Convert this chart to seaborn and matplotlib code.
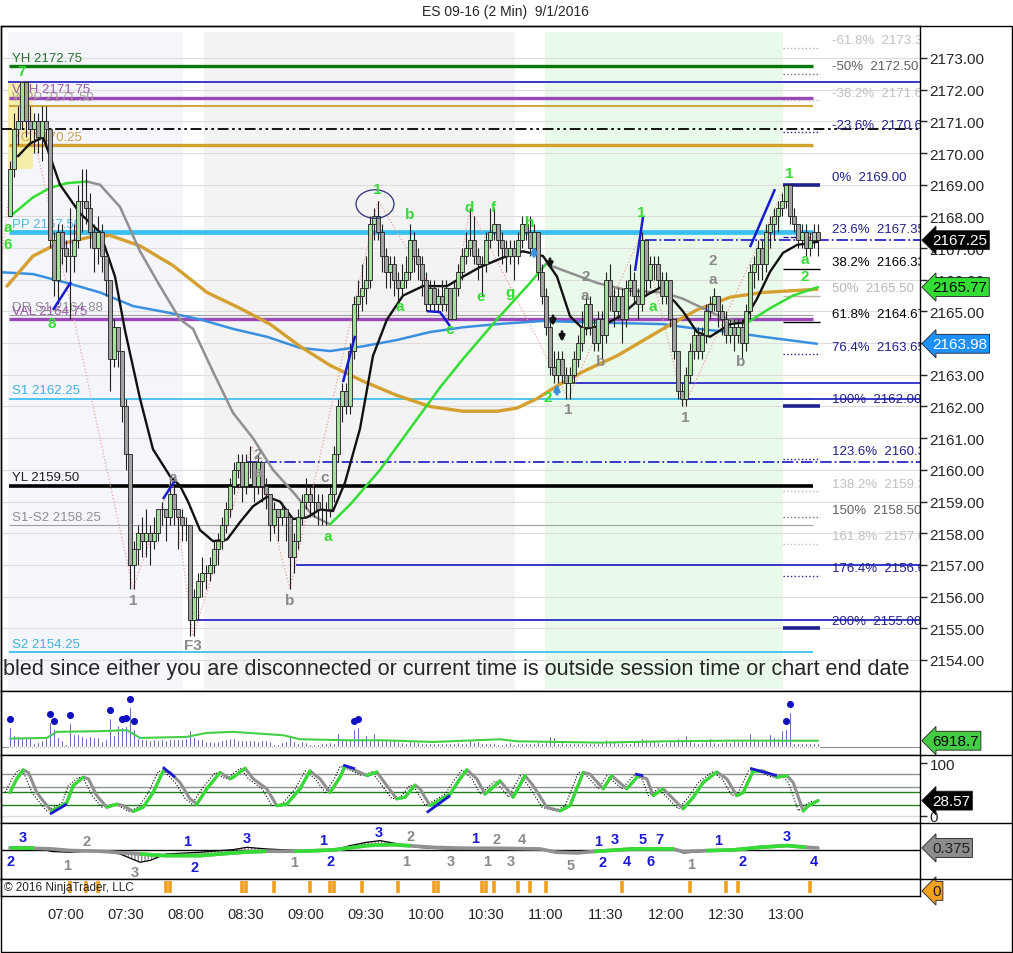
import matplotlib
matplotlib.use("Agg")
import matplotlib.pyplot as plt
import matplotlib.transforms as mtransforms
from matplotlib.collections import LineCollection
from matplotlib.lines import Line2D
from matplotlib.patches import Ellipse, Rectangle
import numpy as np
import pandas as pd
import seaborn as sns

sns.set_style("white")
plt.rcParams["font.family"] = ["Liberation Sans", "DejaVu Sans"]

# ---------------- data ----------------
first_bar_time = "06:32"   # 2 minute bars
bar_minutes = 2
first_open = 2168.0

closes = [
    2169.5, 2170.75, 2171.0, 2172.25, 2171.0, 2170.75, 2171.0, 2170.5, 2171.0, 2170.75,
    2167.25, 2166.0, 2167.5, 2167.0, 2166.75, 2166.75, 2167.25, 2168.5, 2168.5, 2168.25,
    2167.5, 2167.0, 2167.5, 2166.75, 2166.0, 2163.5, 2164.5, 2163.75, 2162.0, 2160.5,
    2157.0, 2157.5, 2158.0, 2157.75, 2158.0, 2157.75, 2158.0, 2158.75, 2158.75, 2158.5,
    2159.25, 2158.75, 2158.5, 2158.25, 2158.25, 2155.25, 2156.0, 2156.5, 2156.75, 2156.75,
    2157.0, 2157.5, 2157.75, 2158.25, 2158.75, 2159.5, 2160.0, 2160.25, 2159.5, 2160.25,
    2160.25, 2159.5, 2160.25, 2159.5, 2159.25, 2158.25, 2158.75, 2158.5, 2158.75, 2158.5,
    2157.25, 2157.75, 2158.5, 2159.0, 2159.25, 2159.0, 2159.0, 2158.75, 2158.75, 2158.75,
    2159.25, 2160.5, 2162.0, 2162.5, 2162.0, 2163.75, 2165.25, 2165.5, 2165.75, 2166.0,
    2167.75, 2168.0, 2167.5, 2166.75, 2166.25, 2166.5, 2166.0, 2165.75, 2166.0, 2166.25,
    2167.25, 2166.75, 2166.5, 2166.0, 2165.25, 2165.75, 2165.25, 2165.5, 2165.25, 2165.75,
    2164.75, 2165.75, 2166.25, 2166.75, 2167.0, 2167.25, 2166.75, 2166.5, 2166.5, 2167.25,
    2167.5, 2167.75, 2167.25, 2167.0, 2166.75, 2167.0, 2166.75, 2167.25, 2167.75, 2167.5,
    2167.0, 2167.5, 2166.25, 2165.5, 2164.5, 2163.25, 2163.0, 2163.5, 2163.0, 2162.75,
    2163.0, 2163.5, 2164.0, 2164.5, 2165.25, 2164.5, 2164.0, 2164.75, 2164.25, 2166.0,
    2165.5, 2165.0, 2165.5, 2164.75, 2165.75, 2166.0, 2165.5, 2165.25, 2167.25, 2166.0,
    2166.5, 2166.5, 2166.0, 2165.5, 2166.0, 2164.75, 2163.75, 2162.5, 2162.25, 2163.0,
    2163.75, 2164.25, 2163.75, 2164.25, 2165.0, 2165.25, 2165.5, 2165.0, 2164.75, 2164.25,
    2164.5, 2164.25, 2164.5, 2164.0, 2165.0, 2166.25, 2166.5, 2167.0, 2166.5, 2167.5,
    2167.75, 2168.0, 2168.25, 2168.5, 2169.0, 2168.0, 2167.75, 2167.25, 2167.5, 2167.0,
    2167.25, 2167.5, 2167.25,
]
highs = [
    2169.75, 2171.25, 2171.5, 2172.25, 2172.25, 2171.5, 2171.25, 2171.25, 2171.5, 2171.5,
    2170.75, 2167.5, 2167.75, 2167.75, 2167.25, 2168.25, 2167.75, 2169.0, 2169.5, 2169.5,
    2168.75, 2167.75, 2168.0, 2167.75, 2166.75, 2166.0, 2164.75, 2164.5, 2163.75, 2162.25,
    2160.5, 2157.75, 2158.25, 2158.5, 2158.75, 2158.25, 2158.5, 2158.75, 2159.0, 2158.75,
    2159.75, 2159.5, 2158.75, 2158.75, 2158.5, 2158.25, 2156.25, 2156.75, 2157.25, 2157.0,
    2157.25, 2157.75, 2158.0, 2158.5, 2159.0, 2159.75, 2160.25, 2160.5, 2160.5, 2160.5,
    2160.75, 2160.25, 2160.5, 2160.25, 2159.75, 2159.25, 2159.0, 2158.75, 2159.0, 2158.75,
    2158.5, 2158.0, 2158.75, 2159.25, 2159.75, 2159.5, 2159.5, 2159.25, 2159.25, 2159.0,
    2159.5, 2160.75, 2162.25, 2162.75, 2162.75, 2164.0, 2165.5, 2166.0, 2166.5, 2166.75,
    2168.0, 2168.25, 2168.5, 2167.75, 2167.0, 2166.75, 2166.75, 2166.25, 2166.5, 2166.75,
    2167.75, 2167.5, 2167.0, 2166.75, 2166.25, 2166.0, 2166.0, 2165.75, 2166.0, 2166.0,
    2165.75, 2166.0, 2166.5, 2167.0, 2167.5, 2168.25, 2168.0, 2167.0, 2166.75, 2167.5,
    2168.25, 2168.25, 2167.75, 2167.5, 2167.25, 2167.25, 2167.25, 2167.5, 2168.0, 2168.0,
    2168.0, 2167.75, 2167.5, 2166.5, 2165.75, 2164.75, 2163.75, 2163.75, 2163.75, 2163.25,
    2163.25, 2163.75, 2164.25, 2165.0, 2165.5, 2165.5, 2164.75, 2165.0, 2165.0, 2166.25,
    2166.5, 2165.75, 2165.75, 2165.75, 2166.0, 2166.5, 2166.25, 2165.75, 2167.5, 2167.25,
    2166.75, 2166.75, 2166.75, 2166.25, 2166.25, 2166.0, 2164.75, 2163.75, 2162.75, 2163.25,
    2164.0, 2164.5, 2164.5, 2164.5, 2165.25, 2165.5, 2165.75, 2165.5, 2165.25, 2165.0,
    2164.75, 2164.75, 2164.75, 2164.75, 2165.25, 2166.5, 2166.75, 2167.25, 2167.25, 2167.75,
    2168.0, 2168.25, 2168.5, 2168.75, 2169.0, 2169.0, 2168.25, 2167.75, 2167.75, 2167.75,
    2167.5, 2167.75, 2167.75,
]
lows = [
    2168.0, 2169.25, 2170.25, 2170.75, 2170.5, 2170.25, 2170.0, 2170.0, 2169.75, 2170.25,
    2167.0, 2165.5, 2165.25, 2166.5, 2166.25, 2164.75, 2166.25, 2167.0, 2167.5, 2167.75,
    2167.0, 2166.25, 2166.5, 2166.25, 2165.5, 2162.5, 2163.25, 2163.25, 2161.5, 2160.0,
    2156.25, 2156.25, 2157.0, 2157.25, 2157.25, 2157.0, 2157.5, 2157.75, 2158.25, 2157.75,
    2158.25, 2158.25, 2157.5, 2157.75, 2157.75, 2154.75, 2154.75, 2155.25, 2156.0, 2156.25,
    2156.5, 2156.75, 2157.0, 2157.5, 2158.0, 2158.5, 2159.25, 2159.75, 2159.0, 2159.25,
    2159.75, 2159.0, 2159.25, 2159.0, 2158.75, 2157.75, 2158.0, 2157.75, 2158.25, 2157.75,
    2156.25, 2156.75, 2157.5, 2158.25, 2158.75, 2158.5, 2158.5, 2158.25, 2158.25, 2158.25,
    2158.5, 2159.0, 2160.25, 2161.5, 2161.75, 2161.75, 2163.5, 2164.75, 2165.0, 2165.25,
    2165.75, 2167.25, 2167.25, 2166.25, 2165.75, 2165.75, 2165.5, 2165.25, 2165.5, 2165.75,
    2166.0, 2166.25, 2166.0, 2165.5, 2165.0, 2165.0, 2165.0, 2165.0, 2165.0, 2165.0,
    2164.75, 2164.75, 2165.5, 2166.0, 2166.5, 2166.75, 2166.5, 2166.0, 2165.5, 2166.25,
    2167.0, 2167.25, 2166.75, 2166.5, 2166.25, 2166.5, 2166.0, 2166.5, 2167.0, 2167.25,
    2166.75, 2166.75, 2166.0, 2165.25, 2164.25, 2163.0, 2162.75, 2162.75, 2162.75, 2162.25,
    2162.25, 2162.75, 2163.25, 2163.75, 2164.25, 2164.25, 2163.75, 2163.75, 2163.5, 2164.0,
    2165.0, 2164.5, 2164.75, 2164.0, 2164.5, 2165.5, 2165.25, 2164.75, 2165.0, 2165.5,
    2165.75, 2166.0, 2165.75, 2165.25, 2165.25, 2164.5, 2163.5, 2162.25, 2162.0, 2162.0,
    2162.75, 2163.5, 2163.5, 2163.5, 2164.0, 2164.75, 2165.0, 2164.5, 2164.25, 2164.0,
    2164.0, 2163.75, 2164.0, 2163.5, 2163.75, 2164.75, 2165.75, 2166.0, 2166.0, 2166.25,
    2167.0, 2167.25, 2167.5, 2168.0, 2168.25, 2167.75, 2167.5, 2167.0, 2167.0, 2166.75,
    2166.75, 2167.0, 2166.75,
]
volumes = [
    22200, 13700, 12200, 11100, 10000, 11100, 4800, 5550, 7400, 10000,
    27750, 20350, 11100, 7400, 3700, 26650, 14800, 14800, 12200, 10000,
    12200, 11100, 11100, 6300, 9250, 31450, 13700, 24050, 22200, 23300,
    44400, 20350, 10000, 9250, 8500, 7400, 8500, 7800, 8500, 7400,
    9250, 9250, 8500, 9250, 10000, 18500, 11100, 9250, 8500, 6300,
    6300, 5550, 6300, 7400, 8500, 10000, 10000, 7400, 7800, 8100,
    7400, 7400, 7000, 7800, 7400, 7000, 3700, 3700, 5550, 6300,
    12200, 6300, 4800, 6300, 5550, 3700, 3700, 3700, 4800, 4800,
    5550, 4800, 15900, 10000, 8500, 8500, 19600, 22200, 10000, 12950,
    7400, 15900, 10000, 7400, 8500, 7400, 7400, 6300, 5550, 4800,
    7400, 7000, 5550, 4800, 4450, 4050, 4050, 4050, 4050, 4800,
    4450, 4800, 5550, 4800, 4800, 7400, 5550, 6300, 4800, 4450,
    4800, 4050, 3700, 3700, 4450, 5550, 3700, 4800, 4450, 4050,
    4800, 4450, 5550, 4800, 5550, 12200, 11100, 4800, 5550, 4450,
    4800, 4050, 4800, 4450, 4050, 4800, 4450, 4800, 5550, 8500,
    5550, 6300, 4800, 5550, 4450, 4800, 5550, 6300, 10000, 8500,
    6300, 7400, 5550, 4800, 5550, 6300, 7400, 10000, 9250, 13700,
    7400, 5550, 4800, 5550, 6300, 10000, 5550, 4800, 5550, 6300,
    5550, 7400, 6300, 9250, 6300, 15900, 10000, 9250, 6300, 7400,
    14800, 11100, 10000, 18500, 19600, 38850, 4800, 4450, 4800, 4050,
    4450, 4800, 4050,
]
volume_spike_bars = [0, 10, 11, 15, 25, 28, 29, 30, 31, 86, 87, 194, 195]

# moving averages (sampled along the drawn lines)
ema_fast_x = [2, 5, 8.25, 10, 12.5, 17.5, 22.5, 26.25, 28.75, 32.5, 35.75, 40, 42.5, 44.5,
              47.5, 50.75, 54.25, 57.5, 60.75, 64.25, 67.5, 70.75, 74.25, 77.5, 80.75, 83.75,
              87.5, 90.75, 94.25, 98.25, 103.25, 109.25, 113.25, 117.5, 123.25, 128.25, 133.25,
              136.75, 140, 143.25, 148.25, 152.5, 157.5, 162.5, 166.25, 168.25, 171.75, 175,
              180, 183.25, 186.75, 190, 193.25, 196.75, 202]
ema_fast_y = [2169.9, 2170.3, 2170.5, 2169.9, 2169.0, 2168.1, 2167.5, 2166.1, 2164.4, 2162.25,
              2160.65, 2159.8, 2159.5, 2159.0, 2158.1, 2157.75, 2157.8, 2158.35, 2158.85, 2159.15,
              2159.0, 2158.45, 2158.5, 2158.75, 2158.7, 2159.6, 2161.3, 2163.6, 2164.75, 2165.5,
              2165.8, 2165.8, 2166.1, 2166.4, 2166.7, 2166.9, 2166.75, 2166.1, 2164.85, 2164.45,
              2164.55, 2164.85, 2165.4, 2165.75, 2165.3, 2165.0, 2164.35, 2164.2, 2164.6, 2164.65,
              2165.4, 2166.25, 2166.85, 2167.1, 2167.2]
trend_ma_x = [0, 5.75, 10, 14.25, 19.25, 22.5, 27.5, 32.5, 37.5, 42.5, 45.75, 50.75, 55.75,
              60.75, 65.75, 70.75, 75.75, 80, 85, 92.5, 100, 107.5, 113.25, 121.75, 130, 134,
              138.25, 146.75, 155, 163.25, 168.25, 173.25, 178.25, 183.75, 190, 195.75, 202]
trend_ma_y = [2168.0, 2168.6, 2168.9, 2169.05, 2169.1, 2169.0, 2168.3, 2166.9, 2165.8, 2164.75,
              2164.45, 2163.1, 2161.8, 2161.0, 2160.0, 2159.3, 2158.55, 2158.28, 2158.9, 2160.0,
              2161.3, 2162.6, 2163.5, 2164.75, 2165.9, 2166.5, 2166.3, 2165.9, 2165.65, 2165.6,
              2165.4, 2165.1, 2164.8, 2164.6, 2165.1, 2165.5, 2165.77]
gold_ma_x = [-0.75, 5.75, 10.75, 20, 25, 32.5, 40.75, 49.25, 57.5, 65, 72.5, 80, 88.25, 96.75,
             105, 113.25, 121.75, 126.75, 131.75, 136.75, 143.25, 151.75, 163.25, 171.75, 180,
             188.25, 201.75]
gold_ma_y = [2165.8, 2166.75, 2167.07, 2167.35, 2167.4, 2167.07, 2166.45, 2165.6, 2165.1, 2164.6,
             2163.9, 2163.3, 2162.8, 2162.35, 2162.0, 2161.85, 2161.85, 2161.95, 2162.25, 2162.65,
             2163.1, 2163.6, 2164.45, 2165.05, 2165.45, 2165.6, 2165.7]
blue_ma_x = [-2.5, 5.75, 14.25, 22.5, 30.75, 39.25, 47.5, 55.75, 64.25, 72.5, 80, 88.25, 96.75,
             105, 113.25, 121.75, 133.25, 146.75, 163.25, 171.75, 180, 188.25, 201.75]
blue_ma_y = [2166.24, 2166.18, 2165.9, 2165.6, 2165.17, 2164.97, 2164.75, 2164.45, 2164.2,
             2163.85, 2163.75, 2163.9, 2164.1, 2164.35, 2164.5, 2164.6, 2164.7, 2164.65, 2164.6,
             2164.45, 2164.35, 2164.2, 2163.98]
vol_ma_x = [0, 9.2, 11.7, 22.5, 29.2, 32.5, 44.2, 49.2, 55.8, 68.3, 72.5, 85, 93.3, 105.8,
            122.5, 126.7, 147.5, 164.2, 180.8, 202]
vol_ma_y = [9250, 10000, 16650, 17400, 18500, 10000, 11100, 15500, 16650, 12950, 8500, 7400,
            7400, 5550, 8500, 6300, 4800, 6300, 7000, 6918.7]

# stochastics
stoch_x = [0, 1.7, 3.3, 4.6, 6.7, 8.3, 10.4, 12.9, 14.2, 15.8, 18.3, 19.6, 21.7, 24.2, 26.7,
           28.3, 30.8, 33.3, 35.8, 38.3, 40.0, 42.5, 45.0, 46.7, 49.2, 52.5, 55.0, 55.8, 58.8,
           60.8, 64.2, 66.7, 69.2, 72.5, 75.0, 77.5, 80.0, 82.5, 83.75, 86.7, 89.2, 91.7, 94.2,
           96.7, 98.75, 101.25, 102.5, 105.0, 107.5, 110.0, 112.5, 114.2, 116.7, 118.75, 120.8,
           122.5, 124.2, 125.8, 128.75, 130.8, 134.2, 137.5, 140.0, 143.3, 145.0, 148.3, 150.4,
           154.2, 157.1, 159.2, 160.8, 163.3, 165.8, 168.3, 170.8, 173.3, 176.7, 179.2, 181.7,
           183.3, 185.8, 188.3, 191.7, 194.2, 195.8, 198.3, 199.6, 202.0]
stoch_v = [44, 70, 87, 82, 44, 28, 9, 19, 25, 57, 73, 70, 38, 16, 22, 19, 8, 16, 44, 85,
           82, 63, 32, 22, 51, 82, 70, 73, 90, 70, 51, 19, 22, 51, 85, 70, 44, 73, 94, 85,
           76, 83, 57, 32, 35, 58, 51, 19, 30, 41, 70, 87, 70, 41, 54, 66, 51, 35, 76, 57,
           16, 9, 19, 82, 79, 51, 76, 51, 76, 70, 38, 51, 32, 13, 35, 63, 83, 70, 38, 44,
           85, 85, 73, 76, 63, 9, 19, 28.57]
stoch_levels = [80, 55, 45, 20, 0]

# oscillator (third panel)
osc_x = [0, 5.8, 10.5, 15, 22.5, 27.5, 32.5, 35, 39, 47.5, 55.8, 59.2, 64.2, 72.5, 80.8, 85,
         89.2, 92.5, 95.8, 101.7, 105.8, 110, 114.2, 122.5, 132.5, 136.7, 141.7, 146.7, 155.8,
         165.8, 168.3, 174.2, 180.8, 187.5, 194.2, 199.2, 202]
osc_signal = [0.38, 0.32, 0.2, -0.1, -0.25, -0.5, -0.76, -0.9, -1.07, -1.07, -0.57, -0.4, -0.25,
              -0.25, 0.0, 0.4, 0.82, 0.95, 1.0, 0.7, 0.5, 0.4, 0.32, 0.32, 0.19, -0.44, -0.57,
              -0.25, 0.19, 0.19, -0.32, -0.13, 0.0, 0.5, 0.82, 0.5, 0.375]
osc_line = [0.5, 0.5, -0.3, -0.44, -0.13, -0.76, -2.33, -2.0, -0.76, -0.44, 0.06, 0.5, 0.19,
            -0.13, 0.0, 0.82, 1.45, 1.76, 1.32, 0.5, 0.3, 0.19, 0.25, 0.38, 0.19, -0.57, -0.63,
            -0.25, 0.32, 0.19, -0.57, -0.25, 0.0, 0.63, 1.0, 0.5, 0.32]
osc_rising_spans = [(0, 6), (32.5, 64), (71, 100), (146, 166), (174, 199)]

# alert marks in the bottom strip (bar numbers)
alert_bars = [15, 19, 22, 39, 40, 58, 59, 66, 75, 80, 81, 88, 97, 106, 107, 118, 119, 121,
              127, 130, 134, 153, 170, 179, 182, 200]

# daily levels
level_names = ["YH", "VAH", "WPP", "YC", "PP", "DR S1", "VAL", "S1", "YL", "S1-S2", "S2"]
level_prices = [2172.75, 2171.75, 2171.50, 2170.25, 2167.50, 2164.88, 2164.75, 2162.25,
                2159.50, 2158.25, 2154.25]
# swing lines that run out to the right edge: price, starting bar
swing_prices = [2172.25, 2170.75, 2167.25, 2162.75, 2162.25, 2160.25, 2157.0, 2155.25]
swing_start = [-0.5, -2.25, 158.75, 140.75, 168.75, 59.0, 71.5, 46.25]

# fibonacci block on the right
fib_pct = ["-61.8%", "-50%", "-38.2%", "-23.6%", "0%", "23.6%", "38.2%", "50%", "61.8%",
           "76.4%", "100%", "123.6%", "138.2%", "150%", "161.8%", "176.4%", "200%"]
fib_price = [2173.33, 2172.50, 2171.67, 2170.65, 2169.00, 2167.35, 2166.33, 2165.50, 2164.67,
             2163.65, 2162.00, 2160.35, 2159.33, 2158.50, 2157.67, 2156.65, 2155.00]

# session shading (bar ranges)
session_spans = [(-0.5, 43.25), (48.5, 126.25), (133.75, 193.25)]

tick_times = ["07:00", "07:30", "08:00", "08:30", "09:00", "09:30", "10:00",
              "10:30", "11:00", "11:30", "12:00", "12:30", "13:00"]

# ---------------- figure layout ----------------
W, H = 1013, 954
X_LEFT, X_RIGHT = -2.25, 227.5
NAVY = "#20208c"
GREEN = "#33dd33"
GRAY_LBL = "#8a8a8a"

fig = plt.figure(figsize=(W / 100, H / 100), dpi=100)


def panel(top, bottom):
    ax = fig.add_axes([1 / W, 1 - bottom / H, 919 / W, (bottom - top) / H])
    ax.set_xlim(X_LEFT, X_RIGHT)
    for s in ax.spines.values():
        s.set_color("black")
        s.set_linewidth(1)
    ax.set_xticks([])
    ax.set_yticks([])
    ax.set_facecolor("white")
    return ax


def tag(ax, y, text, fc, tc):
    tr = mtransforms.blended_transform_factory(ax.transAxes, ax.transData)
    ax.text(1.013, y, text, transform=tr, ha="left", va="center", fontsize=11, color=tc,
            bbox=dict(boxstyle="larrow,pad=0.16", fc=fc, ec="#202020", lw=0.6),
            clip_on=False, zorder=20)


def direction_line(ax, xs, ys, up, down, lw, z):
    pts = np.column_stack([xs, ys])
    segs = np.stack([pts[:-1], pts[1:]], axis=1)
    cols = [up if b >= a else down for a, b in zip(ys[:-1], ys[1:])]
    ax.add_collection(LineCollection(segs, colors=cols, linewidths=lw, zorder=z,
                                     capstyle="round", joinstyle="round"))


ax = panel(27, 692)
ax_v = panel(692, 756)
ax_s = panel(756, 824)
ax_o = panel(824, 880)
ax_b = panel(880, 897)

# ---------------- main price panel ----------------
ax.set_ylim(2153.02, 2174.01)
sess_cols = ["#f4f6fb", "#f3f3f3", "#eafaea"]
for (a, b), c in zip(session_spans, sess_cols):
    ax.axvspan(a, b, ymin=0.003, ymax=0.991, color=c, lw=0, zorder=0)
ax.hlines(np.arange(2154, 2174), X_LEFT, X_RIGHT, color="#dddddd", lw=0.8, zorder=0.5)

ax.add_patch(Rectangle((-0.5, 2169.5), 6.25, 2.77, color="#f7ee9c", alpha=0.85, lw=0, zorder=0.8))

level_cols = ["#0a780a", "#9a48b8", "#c8aa40", "#d4a030", "#38c0f0", "#a0a0a0",
              "#9a48b8", "#40c0f0", "black", "#a0a0a0", "#40c0f0"]
level_txt = ["#2a6e2a", "#9a58b0", "#a8a098", "#c8a050", "#50b8e0", "#909090",
             "#9a58b0", "#40b0e0", "#202020", "#909090", "#40b0e0"]
level_lw = [2.4, 2.4, 1.5, 2.4, 3.4, 0.8, 2.4, 1.3, 2.6, 0.8, 1.3]
for name, p, c, tc, lw in zip(level_names, level_prices, level_cols, level_txt, level_lw):
    ax.hlines(p, -0.3, 200.8, color=c, lw=lw, zorder=1)
    ax.text(0.5, p + 0.07, f"{name} {p:.2f}", color=tc, fontsize=9.5, ha="left",
            va="bottom", zorder=1.5)

swing_styles = ["-", (0, (6, 2, 1.5, 2, 1.5, 2)), "-.", "-", "-", "-.", "-", "-"]
swing_cols = ["#2a2ac8", "black", "#2a2ac8", "#2a2ac8", "#2a2ac8", "#2a2ac8", "#2a2ac8", "#2a2ac8"]
for p, s, ls, c in zip(swing_prices, swing_start, swing_styles, swing_cols):
    ax.hlines(p, s, X_RIGHT, color=c, lw=1.3, linestyles=[ls], zorder=1.2)

# fib block
fib_style = [":", ":", ":", ":", "-", "--", "-", "-", "-", ":", "-", ":", ":", ":", ":", ":", "-"]
fib_lcol = ["#b0b0b0", "#707070", "#b0b0b0", NAVY, NAVY, NAVY, "black", "#c0b4a8", "black",
            NAVY, NAVY, NAVY, "#b8b8b8", "#707070", "#c0c0c0", NAVY, NAVY]
fib_tcol = ["#c0c0c0", "#606060", "#c0c0c0", NAVY, NAVY, NAVY, "black", "#b8b8b8", "black",
            NAVY, NAVY, NAVY, "#c0c0c0", "#606060", "#c0c0c0", NAVY, NAVY]
for pct, p, ls, lc, tc in zip(fib_pct, fib_price, fib_style, fib_lcol, fib_tcol):
    thick = ls == "-" and lc == NAVY
    ax.hlines(p, 193.25, 202.5, color=lc, lw=2.6 if thick else 1.0, linestyles=[ls], zorder=1.3)
    ax.text(205.6, p + 0.05, f"{pct}  {p:.2f}", color=tc, fontsize=9.5, ha="left",
            va="bottom", zorder=1.5, clip_on=True)

# zigzag
zig = [(-2.25, 2166.5), (3, 2172.25), (30.75, 2156.25), (40.5, 2159.75), (45.75, 2154.75),
       (60.5, 2160.75), (70, 2156.25), (92, 2168.5), (110, 2164.75), (115, 2168.25),
       (139.5, 2162.25), (158, 2167.5), (168.5, 2162.0), (194, 2169.0)]
ax.plot([z[0] for z in zig], [z[1] for z in zig], color="#f0a0a0", lw=0.9, ls=":", zorder=1.6)

# moving averages
sns.lineplot(x=blue_ma_x, y=blue_ma_y, ax=ax, color="#3a90e0", lw=1.8, sort=False,
             estimator=None, zorder=2)
sns.lineplot(x=gold_ma_x, y=gold_ma_y, ax=ax, color="#d4a030", lw=2.4, sort=False,
             estimator=None, zorder=2)
direction_line(ax, trend_ma_x, trend_ma_y, GREEN, "#909090", 1.8, 2.1)
sns.lineplot(x=ema_fast_x, y=ema_fast_y, ax=ax, color="#111111", lw=1.7, sort=False,
             estimator=None, zorder=2.2)

# candles
idx = np.arange(len(closes))
opens = np.array([first_open] + closes[:-1])
cl = np.array(closes)
up = cl >= opens
body_lo = np.minimum(opens, cl)
body_h = np.abs(cl - opens)
ax.vlines(idx, lows, highs, color="#202020", lw=0.8, zorder=4)
ax.bar(idx, body_h, bottom=body_lo, width=0.78,
       color=np.where(up, "#a6dea0", "#a2a2a2"), edgecolor="#202020", linewidth=0.6, zorder=5)

# trend segments
blue_segs = [[(38.25, 2159.08), (41.5, 2159.71)], [(10.75, 2165.05), (15.25, 2165.93)],
             [(83.25, 2162.77), (86.25, 2164.23)], [(156.25, 2166.28), (158.25, 2167.98)],
             [(185, 2167.03), (191.25, 2168.86)],
             [(104.25, 2165.01), (107.5, 2164.98), (110, 2164.54)]]
ax.add_collection(LineCollection(blue_segs, colors="#1a1ad0", linewidths=1.8, zorder=6))
ax.add_patch(Ellipse((91.25, 2168.39), 9.5, 0.9, fill=False, ec="#30307a", lw=0.9, zorder=6))

for x0, y0 in [(135, 2166.7), (135.75, 2164.9), (138, 2164.4)]:
    ax.annotate("", xy=(x0, y0 - 0.45), xytext=(x0, y0 + 0.05),
                arrowprops=dict(arrowstyle="-|>", color="#111111", lw=2, mutation_scale=8), zorder=7)
for x0, y0 in [(131, 2166.7), (136.75, 2162.35)]:
    ax.annotate("", xy=(x0, y0 + 0.45), xytext=(x0, y0 - 0.05),
                arrowprops=dict(arrowstyle="-|>", color="#3a90e0", lw=2.2, mutation_scale=8), zorder=7)

green_labels = [(3, 2172.6, "7"), (-0.5, 2167.67, "a"), (-0.5, 2167.13, "6"), (10.5, 2164.64, "8"),
                (91.75, 2168.86, "1"), (100, 2168.08, "b"), (97.5, 2165.17, "a"),
                (114.75, 2168.3, "d"), (120.75, 2168.3, "f"), (117.75, 2165.49, "e"),
                (125, 2165.6, "g"), (130, 2167.82, "h"), (110, 2164.45, "c"), (134.5, 2162.3, "2"),
                (157.75, 2168.14, "1"), (160.75, 2165.17, "a"), (194.75, 2169.37, "1"),
                (198.75, 2166.66, "a"), (198.75, 2166.12, "2"), (79.5, 2157.9, "a")]
gray_labels = [(30.75, 2155.89, "1"), (45.75, 2154.47, "F3"), (62, 2160.5, "2"), (62, 2159.93, "a"),
               (70, 2155.89, "b"), (78.75, 2159.77, "c"), (40.75, 2159.77, "a"),
               (144, 2166.12, "2"), (143.75, 2165.52, "a"), (147.75, 2163.44, "b"),
               (139.5, 2161.92, "1"), (168.75, 2161.67, "1"), (175.75, 2166.62, "2"),
               (175.75, 2166.02, "a"), (182.75, 2163.44, "b")]
for labels, col in [(green_labels, GREEN), (gray_labels, GRAY_LBL)]:
    for x0, y0, t in labels:
        ax.text(x0, y0, t, color=col, fontsize=11, fontweight="bold", ha="center",
                va="center", zorder=8)

ax.text(-1.75, 2153.72, "bled since either you are disconnected or current time is outside "
        "session time or chart end date", fontsize=15.6, ha="left", va="center", zorder=9)

ax.yaxis.tick_right()
ax.set_yticks(np.arange(2154, 2174))
ax.set_yticklabels([f"{v:.2f}" for v in np.arange(2154, 2174)])
ax.tick_params(axis="y", direction="out", length=5, width=1, labelsize=11, pad=2)

tag(ax, closes[-1], f"{closes[-1]:.2f}", "black", "white")
tag(ax, trend_ma_y[-1], f"{trend_ma_y[-1]:.2f}", "#33dd33", "black")
tag(ax, blue_ma_y[-1], f"{blue_ma_y[-1]:.2f}", "#1e90ff", "white")

# ---------------- volume panel ----------------
ax_v.set_ylim(-8800, 61600)
ax_v.axhline(0, color="#909090", lw=0.8, zorder=1)
ax_v.bar(idx, volumes, width=0.55, color="#0c0c98", zorder=2)
spike_vals = [volumes[i] + 8800 for i in volume_spike_bars]
ax_v.scatter(volume_spike_bars, spike_vals, s=26, color="#1010c0", zorder=3, lw=0)
sns.lineplot(x=vol_ma_x, y=vol_ma_y, ax=ax_v, color="#44d044", lw=1.5, sort=False,
             estimator=None, zorder=4)
tag(ax_v, vol_ma_y[-1], f"{vol_ma_y[-1]:.1f}", "#44cc44", "black")

# ---------------- stochastic panel ----------------
ax_s.set_ylim(-13.9, 115.2)
lvl_cols = ["#909090", "#909090", "#208020", "#208020", "#d8d8d8"]
for lv, c in zip(stoch_levels, lvl_cols):
    ax_s.axhline(lv, color=c, lw=1, zorder=1)
ax_s.plot(np.array(stoch_x) - 1.2, stoch_v, color="black", lw=0.8, ls=":", zorder=2)
sns.lineplot(x=stoch_x, y=stoch_v, ax=ax_s, color="#909090", lw=2.2, sort=False,
             estimator=None, zorder=3)
direction_line(ax_s, stoch_x, stoch_v, GREEN, (0, 0, 0, 0), 2.2, 4)
stoch_blue = [[(10, 3), (14.2, 22)], [(38.2, 92), (41.25, 73)], [(83.3, 96), (86.25, 89)],
              [(104.2, 6), (110, 38)], [(156.25, 79), (158.3, 76)], [(185, 90), (191.7, 76)]]
ax_s.add_collection(LineCollection(stoch_blue, colors="#1a1ad0", linewidths=2, zorder=5))
ax_s.yaxis.tick_right()
ax_s.set_yticks([0, 100])
ax_s.tick_params(axis="y", direction="out", length=5, width=1, labelsize=11, pad=2)
tag(ax_s, stoch_v[-1], f"{stoch_v[-1]:.2f}", "black", "white")

# ---------------- oscillator panel ----------------
ax_o.set_ylim(-5.5, 5.1)
ax_o.axhline(0, color="black", lw=1, zorder=1)
ax_o.fill_between(osc_x, osc_signal, osc_line, facecolor="none", edgecolor="#8a8a8a",
                  hatch="|||||", lw=0, zorder=2)
sns.lineplot(x=osc_x, y=osc_line, ax=ax_o, color="black", lw=0.9, sort=False,
             estimator=None, zorder=3)
sns.lineplot(x=osc_x, y=osc_signal, ax=ax_o, color="#909090", lw=2.6, sort=False,
             estimator=None, zorder=4)
for a, b in osc_rising_spans:
    (ln,) = ax_o.plot(osc_x, osc_signal, color=GREEN, lw=2.6, zorder=5)
    ln.set_clip_path(Rectangle((a, -6), b - a, 12, transform=ax_o.transData))
osc_blue = [(3.25, 2.47, "3"), (0.25, -2.09, "2"), (44.25, 1.71, "1"), (46.25, -3.23, "2"),
            (59.25, 2.28, "3"), (78.25, 1.9, "1"), (80.25, -2.09, "2"), (92.25, 3.42, "3"),
            (116.25, 2.28, "1"), (147, 1.71, "1"), (148.25, -2.28, "2"), (151.25, 2.09, "3"),
            (154.25, -2.09, "4"), (158.25, 2.09, "5"), (162.25, 2.09, "7"), (160.25, -2.09, "6"),
            (177, 1.9, "1"), (183.25, -2.09, "2"), (194.25, 2.66, "3"), (201, -2.09, "4")]
osc_gray = [(14.25, -2.85, "1"), (19.25, 1.71, "2"), (31.25, -4.18, "3"), (71, -2.28, "1"),
            (100.25, 2.66, "2"), (99, -2.09, "1"), (110.25, -2.09, "3"), (119.25, -2.09, "1"),
            (121.75, 2.09, "2"), (128, 2.09, "4"), (125.25, -2.09, "3"), (140.25, -2.85, "5"),
            (170.25, -2.66, "1")]
for labels, col in [(osc_blue, "#1a1ad0"), (osc_gray, GRAY_LBL)]:
    for x0, y0, t in labels:
        ax_o.text(x0, y0, t, color=col, fontsize=10.5, fontweight="bold", ha="center",
                  va="center", zorder=6)
tag(ax_o, osc_signal[-1], f"{osc_signal[-1]:.3f}", "#8c8c8c", "#202020")

# ---------------- alert strip + time axis ----------------
ax_b.set_ylim(0, 1)
ax_b.vlines(alert_bars, 0.18, 0.88, color="#f0a020", lw=2.6, zorder=1)
ax_b.text(-1.6, 0.5, "\u00a9 2016 NinjaTrader, LLC", fontsize=8.5, ha="left", va="center", zorder=2)
t0 = pd.Timestamp("2016-09-01 " + first_bar_time)
tick_pos = [(pd.Timestamp("2016-09-01 " + t) - t0).total_seconds() / 60 / bar_minutes
            for t in tick_times]
ax_b.set_xticks(tick_pos)
ax_b.set_xticklabels(tick_times)
ax_b.tick_params(axis="x", direction="out", length=5, width=1, labelsize=10.5, pad=3)
tag(ax_b, 0.3, "0", "#f0a020", "#202020")

# ---------------- frame & title ----------------
fig.add_artist(Rectangle((1 / W, 1 / H), 1011 / W, 1 - 28 / H, transform=fig.transFigure,
                         fill=False, ec="black", lw=1))
for yy in [692, 756, 824, 880]:
    fig.add_artist(Line2D([920 / W, 1012 / W], [1 - yy / H] * 2, color="black", lw=1))
fig.text(505 / W, 1 - 12 / H, "ES 09-16 (2 Min)  9/1/2016", ha="center", va="center",
         fontsize=10)

fig.savefig("out.png", dpi=100)
